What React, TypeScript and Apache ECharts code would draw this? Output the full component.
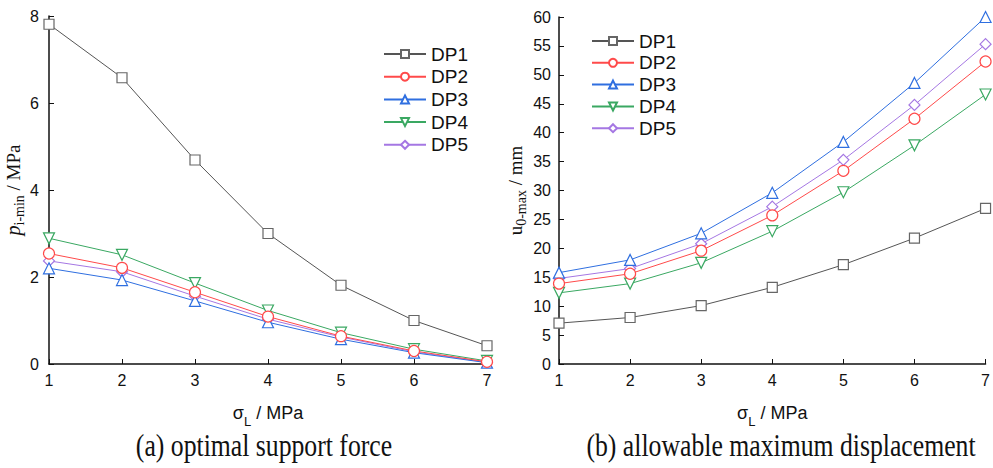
import React, { useEffect, useRef } from "react";
import * as echarts from "echarts";

// Lateral pressure σL (MPa)
const sigmaL = [1, 2, 3, 4, 5, 6, 7];
const seriesNames = ["DP1", "DP2", "DP3", "DP4", "DP5"];

// (a) optimal support force p_i-min (MPa)
const pMinDP1 = [7.81, 6.58, 4.69, 3.0, 1.81, 1.0, 0.42];
const pMinDP2 = [2.54, 2.21, 1.65, 1.09, 0.64, 0.3, 0.05];
const pMinDP3 = [2.2, 1.93, 1.45, 0.96, 0.57, 0.26, 0.03];
const pMinDP4 = [2.89, 2.51, 1.86, 1.23, 0.72, 0.34, 0.07];
const pMinDP5 = [2.37, 2.12, 1.56, 1.03, 0.62, 0.28, 0.04];

// (b) allowable maximum displacement u0-max (mm)
const uMaxDP1 = [7.06, 8.04, 10.1, 13.26, 17.17, 21.76, 26.9];
const uMaxDP2 = [13.9, 15.6, 19.6, 25.7, 33.4, 42.4, 52.3];
const uMaxDP3 = [15.8, 18.0, 22.6, 29.6, 38.4, 48.6, 60.0];
const uMaxDP4 = [12.3, 13.9, 17.5, 22.96, 29.7, 37.8, 46.6];
const uMaxDP5 = [14.8, 16.5, 20.8, 27.2, 35.3, 44.8, 55.3];

const captions = ["(a) optimal support force", "(b) allowable maximum displacement"];

const lineColors = ["#555555", "#ff4a4a", "#2f6fe0", "#3aa862", "#a577e3"];
const markerColors = ["#666666", "#ff4a4a", "#2f6fe0", "#3aa862", "#a577e3"];
const symbols = [
  "rect",
  "circle",
  "triangle",
  "path://M0,0 L10,0 L5,9 Z",
  "diamond",
];
const symbolSizes = [10, 11, 11, 11, 11];

const SANS = "Liberation Sans, Arial, Helvetica, sans-serif";
const SERIF = "Liberation Serif, Times New Roman, serif";

function buildSeries(data: number[][], gridIndex: number) {
  return data.map((vals, i) => ({
    name: seriesNames[i],
    type: "line",
    xAxisIndex: gridIndex,
    yAxisIndex: gridIndex,
    data: sigmaL.map((x, k) => [x, vals[k]]),
    symbol: symbols[i],
    symbolSize: symbolSizes[i],
    z: 10 - i,
    lineStyle: { color: lineColors[i], width: 1 },
    itemStyle: { color: "#ffffff", borderColor: markerColors[i], borderWidth: 1.2 },
    emphasis: { disabled: true },
  }));
}

function valueAxisX(gridIndex: number) {
  return {
    type: "value",
    gridIndex,
    min: 1,
    max: 7,
    interval: 1,
    name: "{s|σ}{sub|L}{s| / MPa}",
    nameLocation: "middle",
    nameGap: 37,
    nameTextStyle: {
      rich: {
        s: { fontFamily: SANS, fontSize: 18, color: "#111", lineHeight: 24, verticalAlign: "middle" },
        sub: { fontFamily: SANS, fontSize: 13, color: "#111", lineHeight: 24, verticalAlign: "bottom", padding: [0, 0, -3, 0] },
      },
    },
    axisLine: { onZero: false, lineStyle: { color: "#111", width: 1.5 } },
    axisTick: { inside: true, length: 5, lineStyle: { color: "#111" } },
    axisLabel: { fontFamily: SANS, fontSize: 16, color: "#111", margin: 8 },
    splitLine: { show: false },
  };
}

function legend(left: number, top: number, gap: number) {
  return {
    left,
    top,
    orient: "vertical",
    itemWidth: 42,
    itemHeight: 10,
    itemGap: gap,
    data: seriesNames,
    textStyle: { fontFamily: SANS, fontSize: 19, color: "#111", lineHeight: 20 },
    selectedMode: false,
  };
}

function caption(text: string, x: number) {
  return {
    type: "text",
    x,
    y: 446,
    scaleX: 0.83,
    style: {
      text,
      fontFamily: SERIF,
      fontSize: 31,
      fill: "#111",
      align: "center",
      verticalAlign: "middle",
    },
  };
}

export default function App() {
  const ref = useRef<HTMLDivElement>(null);

  useEffect(() => {
    if (!ref.current) return;
    const chart = echarts.init(ref.current, undefined, { renderer: "svg" });

    chart.setOption({
      animation: false,
      backgroundColor: "#ffffff",
      grid: [
        { left: 49, right: 506, top: 16, bottom: 104 },
        { left: 559, right: 3, top: 17, bottom: 104 },
      ],
      legend: [legend(378, 39, 2.7), legend(586, 26, 1.8)],
      xAxis: [valueAxisX(0), valueAxisX(1)],
      yAxis: [
        {
          type: "value",
          gridIndex: 0,
          min: 0,
          max: 8,
          interval: 2,
          name: "{p|p}{sub|i-min}{n| / MPa}",
          nameLocation: "middle",
          nameRotate: 90,
          nameGap: 22,
          nameTextStyle: {
            rich: {
              p: { fontFamily: SERIF, fontStyle: "italic", fontSize: 20, color: "#111", lineHeight: 26, verticalAlign: "middle" },
              sub: { fontFamily: SERIF, fontSize: 14, color: "#111", lineHeight: 26, verticalAlign: "bottom" },
              n: { fontFamily: SERIF, fontSize: 19, color: "#111", lineHeight: 26, verticalAlign: "middle" },
            },
          },
          axisLine: { show: true, lineStyle: { color: "#111", width: 1.5 } },
          axisTick: { show: true, inside: true, length: 5, lineStyle: { color: "#111" } },
          axisLabel: { fontFamily: SANS, fontSize: 16, color: "#111", margin: 10 },
          splitLine: { show: false },
        },
        {
          type: "value",
          gridIndex: 1,
          min: 0,
          max: 60,
          interval: 5,
          name: "{n|u}{sub|0-max}{n| / mm}",
          nameLocation: "middle",
          nameRotate: 90,
          nameGap: 31,
          nameTextStyle: {
            rich: {
              sub: { fontFamily: SERIF, fontSize: 14, color: "#111", lineHeight: 26, verticalAlign: "bottom" },
              n: { fontFamily: SERIF, fontSize: 19, color: "#111", lineHeight: 26, verticalAlign: "middle" },
            },
          },
          axisLine: { show: true, lineStyle: { color: "#111", width: 1.5 } },
          axisTick: { show: true, inside: true, length: 5, lineStyle: { color: "#111" } },
          axisLabel: { fontFamily: SANS, fontSize: 16, color: "#111", margin: 8 },
          splitLine: { show: false },
        },
      ],
      series: [
        ...buildSeries([pMinDP1, pMinDP2, pMinDP3, pMinDP4, pMinDP5], 0),
        ...buildSeries([uMaxDP1, uMaxDP2, uMaxDP3, uMaxDP4, uMaxDP5], 1),
      ],
      graphic: [caption(captions[0], 264), caption(captions[1], 781)],
    });

    return () => chart.dispose();
  }, []);

  return (
    <div
      ref={ref}
      style={{ width: 993, height: 468, position: "absolute", left: 0, top: 0 }}
    />
  );
}
